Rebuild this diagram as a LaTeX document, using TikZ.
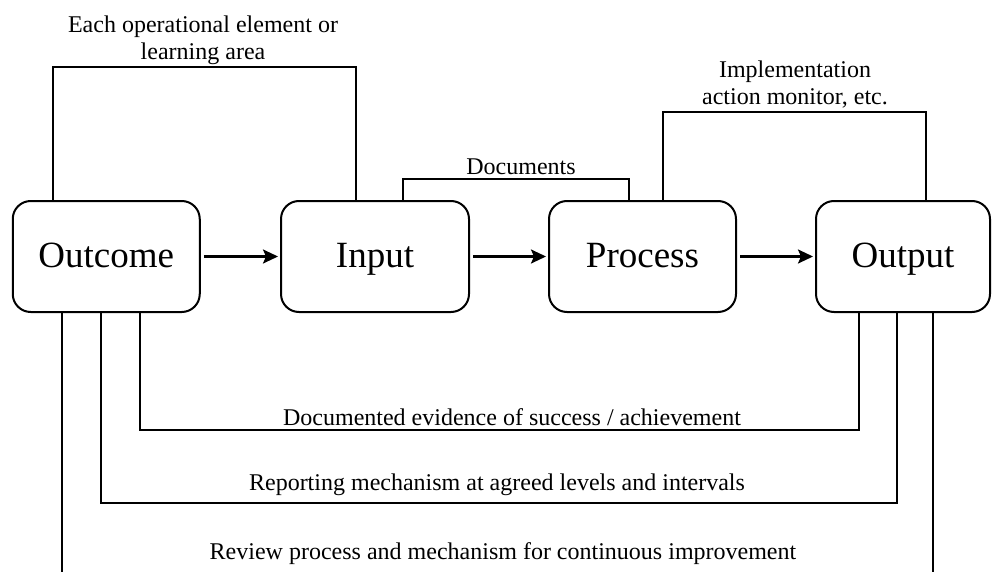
\documentclass[tikz,border=0pt]{standalone}
\usepackage{fontspec}
\setmainfont{Liberation Serif}
\usetikzlibrary{arrows.meta}
\begin{document}
\begin{tikzpicture}[x=1pt,y=-1pt,
  stage/.style={draw, line width=2pt, rounded corners=18pt, minimum height=111pt,
    font=\fontsize{37}{40}\selectfont, text height=26pt, text depth=5pt, inner sep=0pt},
  link/.style={line width=2pt},
  flow/.style={line width=2.4pt, -{Stealth[length=15pt,width=14pt,inset=3pt]},
    shorten <=3pt, shorten >=2pt},
  note/.style={font=\fontsize{24}{27}\selectfont, align=center, inner sep=0pt, anchor=base}]
\useasboundingbox (0,0) rectangle (992,572);

% the four stages
\node[stage, minimum width=187pt] (outcome) at (106.25,256.5) {Outcome};
\node[stage, minimum width=188pt] (input)   at (375,256.5)    {Input};
\node[stage, minimum width=187pt] (process) at (642.5,256.5)  {Process};
\node[stage, minimum width=174pt] (output)  at (903,256.5)    {Output};

% main flow
\draw[flow] (outcome) -- (input);
\draw[flow] (input) -- (process);
\draw[flow] (process) -- (output);

% links above the stages
\coordinate (eL) at (53,67);   \coordinate (eR) at (356,67);
\coordinate (dL) at (403,179); \coordinate (dR) at (629,179);
\coordinate (iL) at (663,112); \coordinate (iR) at (926,112);
\draw[link] (outcome.north -| eL) -- (eL) -- (eR) -- (input.north -| eR);
\draw[link] (input.north -| dL) -- (dL) -- (dR) -- (process.north -| dR);
\draw[link] (process.north -| iL) -- (iL) -- (iR) -- (output.north -| iR);
% a two-line note sits on the baseline of its last line
\node[note] (each) at (203,60) {Each operational element or\\learning area};
\node[note] (docs) at (521,175) {Documents};
\node[note] (impl) at (795,105) {Implementation\\action monitor, etc.};

% links below the stages
\coordinate (aL) at (140,430); \coordinate (aR) at (859,430);
\coordinate (bL) at (101,503); \coordinate (bR) at (897,503);
\coordinate (cL) at (62,572);  \coordinate (cR) at (933,572);
\draw[link] (outcome.south -| aL) -- (aL) -- (aR) -- (output.south -| aR);
\draw[link] (outcome.south -| bL) -- (bL) -- (bR) -- (output.south -| bR);
\draw[link] (outcome.south -| cL) -- (cL);
\draw[link] (output.south -| cR) -- (cR);
\node[note] (evid) at (512,425) {Documented evidence of success / achievement};
\node[note] (report) at (497,490) {Reporting mechanism at agreed levels and intervals};
\node[note] (review) at (503,559) {Review process and mechanism for continuous improvement};
\end{tikzpicture}
\end{document}
